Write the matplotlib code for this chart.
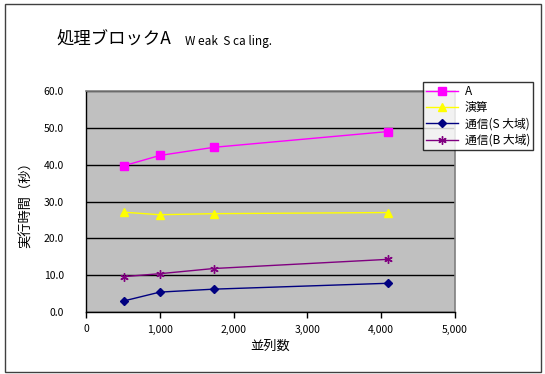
import matplotlib
matplotlib.use("Agg")
import matplotlib.pyplot as plt
from matplotlib.patches import Rectangle
from matplotlib.ticker import FuncFormatter

plt.rcParams['font.family'] = ['Noto Sans CJK JP', 'DejaVu Sans']

# Parallel count and elapsed time per series (seconds)
procs = [512, 1000, 1728, 4096]
total = [39.7, 42.5, 44.7, 49.0]
compute = [27.1, 26.4, 26.7, 27.0]
comm_s = [3.0, 5.4, 6.2, 7.8]
comm_b = [9.6, 10.4, 11.8, 14.3]

labels = ["A", "演算", "通信(S 大域)", "通信(B 大域)"]
x_ticks = [0, 1000, 2000, 3000, 4000, 5000]
y_ticks = [0, 10, 20, 30, 40, 50, 60]

fig = plt.figure(figsize=(5.45, 3.74), dpi=100)
fig.patch.set_facecolor("white")
fig.patches.append(Rectangle((5 / 545, 2 / 374), 536 / 545, 368 / 374,
                             transform=fig.transFigure, fill=False,
                             edgecolor="#404040", linewidth=1.0))

ax = fig.add_axes([86 / 545, 62 / 374, 369 / 545, 221 / 374])
ax.set_facecolor("#C0C0C0")

ax.plot(procs, total, color="#FF00FF", marker="s", markersize=5.5, lw=1.0, label=labels[0])
ax.plot(procs, compute, color="#FFFF00", marker="^", markersize=6, lw=1.0, label=labels[1])
ax.plot(procs, comm_s, color="#000080", marker="D", markersize=4.5, lw=1.0, label=labels[2])
ax.plot(procs, comm_b, color="#800080", marker=(6, 2, 0), markersize=6, mew=1.0,
        lw=1.0, label=labels[3])

ax.set_xlim(0, 5000)
ax.set_ylim(0, 60)
ax.set_xticks(x_ticks)
ax.set_yticks(y_ticks)
ax.xaxis.set_major_formatter(FuncFormatter(lambda v, p: f"{int(v):,}"))
ax.yaxis.set_major_formatter(FuncFormatter(lambda v, p: f"{v:.1f}"))
ax.grid(axis="y", color="black", linewidth=1.0)
ax.set_axisbelow(True)

ax.tick_params(axis="x", direction="out", length=4, width=1, labelsize=7.5, pad=5)
ax.tick_params(axis="y", length=0, labelsize=7.5, pad=16)

for side in ("left", "bottom"):
    ax.spines[side].set_color("black")
    ax.spines[side].set_linewidth(1.0)
for side in ("top", "right"):
    ax.spines[side].set_color("#808080")
    ax.spines[side].set_linewidth(1.2)

ax.set_xlabel("並列数", fontsize=9.5, labelpad=4)
ax.set_ylabel("実行時間（秒）", fontsize=9.5, labelpad=8)

fig.text(57 / 545, 1 - 40 / 374, "処理ブロックA", fontsize=12.5, va="center", ha="left")
fig.text(185 / 545, 1 - 42 / 374, "W eak  S ca ling.", fontsize=8.5, va="center", ha="left")

leg = fig.legend(loc="upper left", bbox_to_anchor=(423 / 545, 1 - 82 / 374),
                 fontsize=8.5, frameon=True, fancybox=False, edgecolor="black",
                 borderpad=0.25, labelspacing=0.28, handlelength=2.7,
                 handletextpad=0.6, borderaxespad=0)
leg.get_frame().set_linewidth(1.0)

fig.savefig("out.png", dpi=100)
